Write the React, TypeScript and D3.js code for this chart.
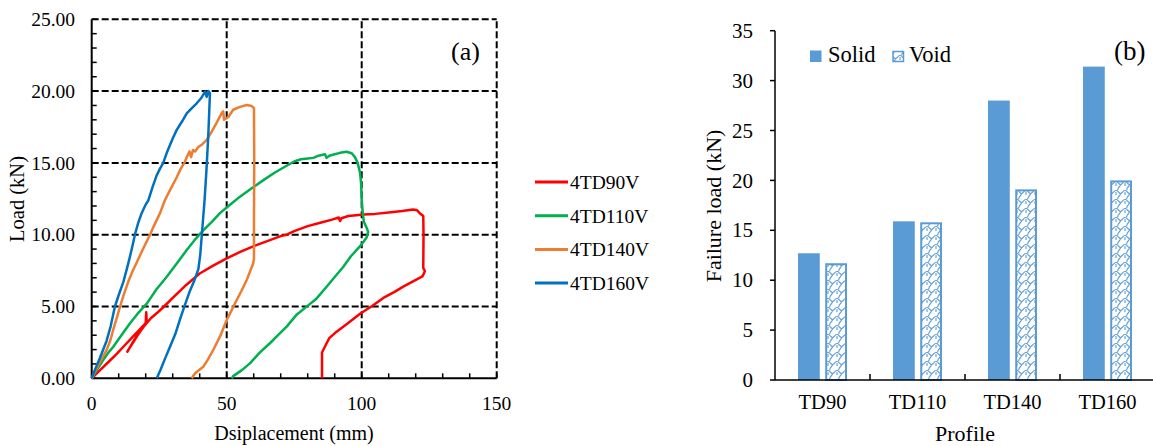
import React from "react";
import * as d3 from "d3";

// ---- (a) load–displacement curves: [displacement mm, load kN] ----
const td90: [number, number][] = [
  [0, 0], [3, 0.55], [6, 1.1], [9, 1.65], [12, 2.25], [15, 2.85], [18, 3.45], [20, 3.85],
  [20.2, 4.6], [20.4, 3.9], [17, 3.0], [14, 2.1], [13.2, 1.85], [16, 2.75], [19, 3.55],
  [22, 4.2], [24.5, 4.6], [26.8, 5.0], [30, 5.6], [35, 6.5], [40, 7.3], [45, 7.85], [50, 8.35],
  [55, 8.8], [60, 9.2], [65, 9.55], [70, 9.9], [72.2, 10.0], [75, 10.25], [80, 10.6], [85, 10.85],
  [89, 11.05], [91.5, 11.2], [92, 10.95], [92.5, 11.15], [95, 11.3], [98, 11.35], [100.6, 11.4],
  [105, 11.45], [110, 11.55], [115, 11.65], [119, 11.75], [120.5, 11.7], [121.5, 11.5],
  [122.8, 11.3], [122.9, 10.0], [122.8, 7.7], [123.4, 7.45], [122.5, 7.1], [119, 6.75],
  [115.4, 6.38], [112, 6.0], [108, 5.6], [104, 5.05], [99.4, 4.5], [95, 3.85], [90.7, 3.25],
  [88, 2.8], [87, 2.44], [85.3, 1.8], [85.3, 0],
];
const td110: [number, number][] = [
  [0, 0], [2, 0.6], [4, 1.2], [6, 1.75], [8, 2.2], [11, 3.0], [14.2, 3.83], [17, 4.5], [20.4, 5.2],
  [24, 6.2], [27.8, 7.07], [31.5, 8.0], [35.2, 8.93], [38, 9.6], [41.3, 10.3], [44.5, 10.9],
  [47.5, 11.5], [51, 12.05], [54.9, 12.65], [59, 13.2], [63.6, 13.8], [68, 14.35], [72.2, 14.8],
  [75, 15.1], [77.5, 15.25], [80, 15.3], [82.1, 15.35], [84, 15.5], [86.4, 15.6], [87, 15.35],
  [88, 15.5], [90, 15.6], [92, 15.7], [94.4, 15.78], [96.3, 15.67], [97.5, 15.4], [98.5, 15.0],
  [99.4, 14.3], [99.8, 13.5], [100, 12.4], [100.4, 11.5], [100.8, 10.9], [101.9, 10.45],
  [102.4, 10.2], [101.8, 9.8], [100.6, 9.5], [99.4, 9.2], [96, 8.5], [93.2, 7.77], [90, 7.05],
  [87, 6.38], [83, 5.5], [79.6, 4.99], [76, 4.45], [72.2, 3.6], [69, 3.0], [66, 2.44],
  [62.3, 1.8], [58.6, 1.04], [55.5, 0.55], [52.4, 0.15], [51.9, 0],
];
const td140: [number, number][] = [
  [0, 0], [1, 0.4], [3, 1.1], [5.6, 2.0], [7, 2.7], [8, 3.4], [9.3, 4.2], [10.5, 5.0], [12, 5.9],
  [13.5, 6.7], [15, 7.4], [16.5, 8.0], [18, 8.6], [19.5, 9.2], [21.6, 10.0], [23, 10.6],
  [25.3, 11.5], [27.1, 12.4], [29, 13.1], [31.5, 14.0], [33, 14.6], [34.3, 15.0], [35.2, 15.4],
  [36.2, 15.8], [36.8, 15.4], [37.5, 15.9], [38.3, 15.8], [39.5, 16.1], [41, 16.3], [42.6, 16.6],
  [44.5, 17.2], [46.3, 17.8], [48.1, 18.45], [48.7, 18.6], [49, 18.0], [50.6, 18.2], [52.4, 18.7],
  [54.9, 18.9], [57.4, 19.03], [59.3, 18.96], [60.1, 18.8], [60.2, 15.0], [60.1, 11.0],
  [60.1, 8.3], [59.8, 8.0], [57.4, 6.85], [55.5, 6.1], [53.7, 5.45], [52, 4.8], [50, 4.06],
  [47.5, 2.9], [45, 1.97], [43, 1.3], [41.3, 0.8], [38.3, 0.35], [37, 0],
];
const td160: [number, number][] = [
  [0, 0], [1, 0.5], [3, 1.4], [5.5, 2.6], [7, 3.6], [8.6, 5.0], [10, 5.8], [11.7, 6.7], [13, 7.6],
  [14.2, 8.5], [15.2, 9.3], [16, 10.0], [17.2, 10.8], [18.5, 11.5], [20, 12.1], [21, 12.4],
  [22.5, 13.3], [24, 14.1], [25.3, 14.6], [26.5, 15.0], [28, 15.8], [30, 16.7], [31.5, 17.3],
  [33.5, 17.9], [35.2, 18.45], [37, 18.8], [38.9, 19.15], [40.5, 19.5], [42, 19.96], [42.6, 19.6],
  [43.2, 20.0], [43.8, 19.85], [43.2, 17.0], [42.5, 14.5], [41.8, 12.4], [41, 10.5], [40.2, 8.6],
  [39.5, 7.6], [38, 6.8], [36.4, 6.1], [34.5, 5.1], [32.7, 4.1], [31, 3.1], [29, 2.2], [27, 1.3],
  [25.5, 0.6], [24.1, 0],
];

const curveNames = ["4TD90V", "4TD110V", "4TD140V", "4TD160V"];
const curveColors = ["#FF0000", "#00B050", "#ED7D31", "#0070C0"];
const curveData = [td90, td110, td140, td160];

const dispTicks = [0, 50, 100, 150];
const loadTicks = [0, 5, 10, 15, 20, 25];

// ---- (b) failure load per profile ----
const profiles = ["TD90", "TD110", "TD140", "TD160"];
const solidLoads = [12.7, 15.9, 28.0, 31.4];
const voidLoads = [11.7, 15.8, 19.1, 20.0];
const failureTicks = [0, 5, 10, 15, 20, 25, 30, 35];

const FONT = "'Liberation Serif', 'Times New Roman', serif";
const BAR_BLUE = "#5B9BD5";

function LoadDisplacement() {
  const x = d3.scaleLinear().domain([0, 150]).range([91.7, 496.7]);
  const y = d3.scaleLinear().domain([0, 25]).range([378.3, 19.3]);
  const line = d3
    .line<[number, number]>()
    .x((d) => x(d[0]))
    .y((d) => y(d[1]))
    .curve(d3.curveLinear);

  const minorY = d3.range(0, 26, 1);
  const minorX = d3.range(0, 151, 10);

  return (
    <g fontFamily={FONT} fill="#000">
      {/* minor ticks */}
      {minorY.map((v) => (
        <line key={"my" + v} x1={x(0)} x2={x(0) + 5} y1={y(v)} y2={y(v)} stroke="#000" strokeWidth={1.5} />
      ))}
      {minorX.map((v) => (
        <line key={"mx" + v} x1={x(v)} x2={x(v)} y1={y(0)} y2={y(0) - 5} stroke="#000" strokeWidth={1.5} />
      ))}
      {/* dashed grid */}
      {dispTicks.slice(1).map((v) => (
        <line key={"gx" + v} x1={x(v)} x2={x(v)} y1={y(0)} y2={y(25)} stroke="#000" strokeWidth={2} strokeDasharray="7 3" />
      ))}
      {loadTicks.slice(1).map((v) => (
        <line key={"gy" + v} x1={x(0)} x2={x(150)} y1={y(v)} y2={y(v)} stroke="#000" strokeWidth={2} strokeDasharray="7 3" />
      ))}
      {/* axes */}
      <line x1={x(0)} x2={x(0)} y1={y(0)} y2={y(25)} stroke="#000" strokeWidth={2} />
      <line x1={x(0)} x2={x(150)} y1={y(0)} y2={y(0)} stroke="#000" strokeWidth={2} />

      {/* curves */}
      {curveData.map((d, i) => (
        <path key={curveNames[i]} d={line(d) || ""} fill="none" stroke={curveColors[i]} strokeWidth={2.5} strokeLinejoin="round" />
      ))}

      {/* tick labels */}
      {loadTicks.map((v) => (
        <text key={"ly" + v} x={75} y={y(v)} dy="0.34em" textAnchor="end" fontSize={19.5}>
          {d3.format(".2f")(v)}
        </text>
      ))}
      {dispTicks.map((v) => (
        <text key={"lx" + v} x={x(v)} y={410} textAnchor="middle" fontSize={19.5}>
          {v}
        </text>
      ))}
      <text x={294} y={440} textAnchor="middle" fontSize={20}>Dsiplacement (mm)</text>
      <text transform="translate(24,199) rotate(-90)" textAnchor="middle" fontSize={20.5}>Load (kN)</text>
      <text x={451} y={60} fontSize={26}>(a)</text>

      {/* legend */}
      {curveNames.map((n, i) => {
        const ly = 182 + i * 33.7;
        return (
          <g key={"lg" + n}>
            <line x1={535} x2={568} y1={ly} y2={ly} stroke={curveColors[i]} strokeWidth={3} />
            <text x={570} y={ly + 6.8} fontSize={19.5}>{n}</text>
          </g>
        );
      })}
    </g>
  );
}

function FailureLoadBars() {
  const x0 = d3.scaleBand<string>().domain(profiles).range([775, 1155]).padding(0);
  const x1 = d3.scaleBand<string>().domain(["Solid", "Void"]).range([23, 72]).paddingInner(0.2);
  const y = d3.scaleLinear().domain([0, 35]).range([380, 30.7]);
  const bw = x1.bandwidth();

  return (
    <g fontFamily={FONT} fill="#000">
      <defs>
        <pattern id="wave" patternUnits="userSpaceOnUse" width={9} height={9} x={0} y={0}>
          <rect width={9} height={9} fill="#fff" />
          <path
            d="M0,1.5 C2.5,1.5 2.5,4.5 4.5,4.5 C6.5,4.5 6.5,1.5 9,1.5 M4.5,4.5 C4.5,7 2,7 2,9 M2,0 C2,0.8 1.5,1.3 0.8,1.5 M0,6 L0,3 M9,6 L9,3"
            fill="none"
            stroke={BAR_BLUE}
            strokeWidth={1.1}
          />
        </pattern>
      </defs>

      {profiles.map((p, i) => (
        <g key={p}>
          <rect
            x={(x0(p) || 0) + (x1("Solid") || 0)}
            y={y(solidLoads[i])}
            width={bw}
            height={y(0) - y(solidLoads[i])}
            fill={BAR_BLUE}
          />
          <rect
            x={(x0(p) || 0) + (x1("Void") || 0) + 1}
            y={y(voidLoads[i]) + 1}
            width={bw - 2}
            height={y(0) - y(voidLoads[i]) - 1}
            fill="url(#wave)"
            stroke={BAR_BLUE}
            strokeWidth={2}
          />
        </g>
      ))}

      {/* axes */}
      <line x1={775} x2={775} y1={y(35)} y2={y(0)} stroke="#000" strokeWidth={1.5} />
      <line x1={775} x2={1153} y1={y(0)} y2={y(0)} stroke="#000" strokeWidth={1.5} />
      {failureTicks.map((v) => (
        <g key={"ty" + v}>
          <line x1={775} x2={770} y1={y(v)} y2={y(v)} stroke="#000" strokeWidth={1.5} />
          <text x={753} y={y(v)} dy="0.34em" textAnchor="end" fontSize={21}>{v}</text>
        </g>
      ))}
      {profiles.slice(1).map((p) => (
        <line key={"tx" + p} x1={x0(p)} x2={x0(p)} y1={y(0)} y2={y(0) - 6} stroke="#000" strokeWidth={1.5} />
      ))}
      {profiles.map((p) => (
        <text key={"lx" + p} x={(x0(p) || 0) + x0.bandwidth() / 2} y={409} textAnchor="middle" fontSize={20.5}>
          {p}
        </text>
      ))}
      <text x={965} y={441} textAnchor="middle" fontSize={22}>Profile</text>
      <text transform="translate(721,206) rotate(-90)" textAnchor="middle" fontSize={22}>Failure load (kN)</text>
      <text x={1114} y={60} fontSize={27}>(b)</text>

      {/* legend */}
      <rect x={810} y={50.5} width={11.5} height={11.5} fill={BAR_BLUE} />
      <text x={828} y={62} fontSize={22.5}>Solid</text>
      <rect x={893} y={51.5} width={10.5} height={10} fill="url(#wave)" stroke={BAR_BLUE} strokeWidth={1.5} />
      <text x={909} y={62} fontSize={22.5}>Void</text>
    </g>
  );
}

export default function App() {
  return (
    <svg
      width={1153}
      height={446}
      viewBox="0 0 1153 446"
      style={{ position: "absolute", left: 0, top: 0, background: "#fff" }}
    >
      <rect width={1153} height={446} fill="#fff" />
      <LoadDisplacement />
      <FailureLoadBars />
    </svg>
  );
}
